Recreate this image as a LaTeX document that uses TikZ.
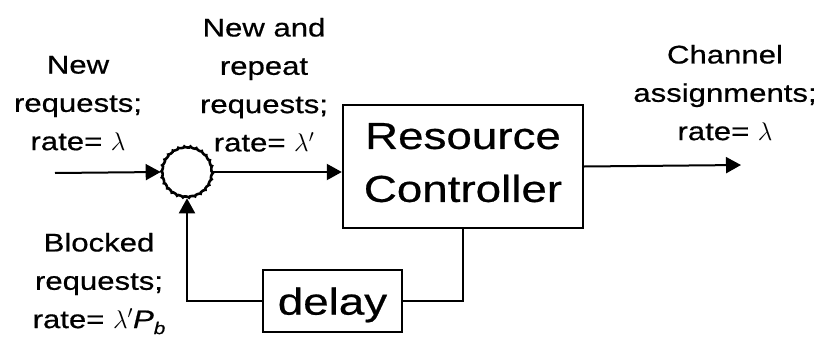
\RequirePackage{fix-cm}
\documentclass[tikz,border=0pt]{standalone}
\usepackage{fontspec}
\setmainfont{Liberation Sans}[FakeStretch=1.22,FakeBold=0.6]
\usetikzlibrary{arrows.meta,decorations.pathmorphing}
\begin{document}
\begin{tikzpicture}[x=1pt,y=-1pt,line width=2pt,
  lbl/.style={align=center,anchor=north,inner sep=0pt,font=\fontsize{25.5}{38.3}\selectfont},
  blk/.style={draw,line width=2.4pt,inner sep=0pt,font=\fontsize{37.5}{53}\selectfont,align=center},
  arr/.style={-{Triangle[length=15pt,width=16pt]}}]
\useasboundingbox (0,0) rectangle (824,337);
\node[circle,draw,minimum size=50pt,inner sep=0pt,line width=2.6pt,decorate,decoration={bumps,segment length=12pt,amplitude=0.7pt}] (sum) at (187,172) {};
\node[blk,minimum width=240pt,minimum height=123pt,text depth=8pt] (rc) at (463,166.5) {Resource\\Controller};
\node[blk,minimum width=139pt,minimum height=62pt,text height=35pt,text depth=7.8pt] (dl) at (332.5,301) {delay};
\coordinate (in) at (55,173);
\coordinate (out) at (741,165);
\draw[arr] (in) -- (sum.west);
\draw[arr] (sum.east) -- (sum.east -| rc.west);
\draw[arr] (rc.east) -- (out);
\draw (rc.south) |- (dl.east);
\draw[arr] (dl.west) -| (sum.south);
\node[lbl] (l1) at (78,55) {New\\requests;\\rate= $\lambda$};
\node[lbl] (l2) at (264,17) {New and\\repeat\\requests;\\rate= $\lambda'$};
\node[lbl] (l3) at (725,44) {Channel\\assignments;\\rate= $\lambda$};
\node[lbl] (l4) at (99,232) {Blocked\\requests;\\rate= $\lambda'$\textit{P}\raisebox{-6pt}{\fontsize{17}{17}\selectfont\itshape b}};
\end{tikzpicture}
\end{document}
